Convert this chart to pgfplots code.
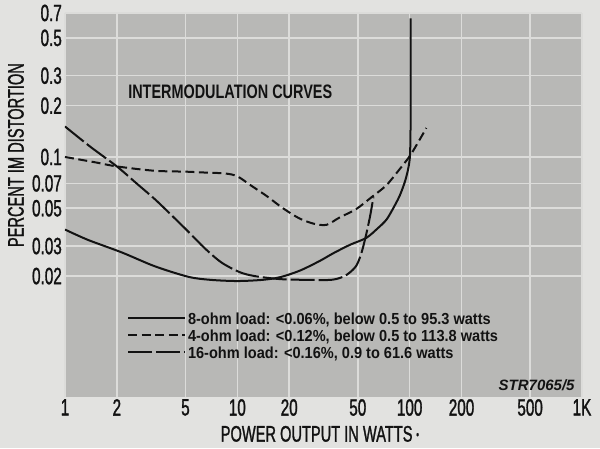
\documentclass[border=0pt]{standalone}
\usepackage{fontspec}
\setmainfont{Liberation Sans}[FakeStretch=0.65, FakeBold=1.2]
\newfontfamily\legfont{Liberation Sans}[FakeStretch=0.91]
\newfontfamily\titfont{Liberation Sans}[FakeStretch=0.74]
\newfontfamily\plainfont{Liberation Sans}
\usepackage{pgfplots}
\pgfplotsset{compat=1.18}
\definecolor{paper}{RGB}{226,226,224}
\definecolor{plotbg}{RGB}{184,184,182}
\definecolor{gridc}{RGB}{220,220,218}
\definecolor{ink}{RGB}{18,18,18}
\begin{document}
\begin{tikzpicture}
\fill[paper] (-65pt,-51pt) rectangle (535pt,397pt);
\path[use as bounding box] (-65pt,-51pt) rectangle (535pt,397pt);
\begin{axis}[
  scale only axis, width=517pt, height=384pt,
  xmode=log, ymode=log,
  xmin=1, xmax=1000, ymin=0.0039, ymax=0.7,
  axis background/.style={fill=plotbg},
  axis line style={draw=none},
  major tick length=0pt, minor tick length=0pt,
  xtick={1,2,5,10,20,50,100,200,500,1000},
  xticklabels={1,2,5,10,20,50,100,200,500,1K},
  ytick={0.02,0.03,0.05,0.07,0.1,0.2,0.3,0.5,0.7},
  yticklabels={0.02,0.03,0.05,0.07,0.1,0.2,0.3,0.5,0.7},
  grid=major,
  major grid style={draw=gridc, line width=1.6pt},
  /pgf/number format/assume math mode=true,
  tick label style={font=\fontsize{23.5}{24}\selectfont, text=ink},
  xticklabel style={inner sep=2pt},
  yticklabel style={inner sep=3pt},
  xlabel={POWER OUTPUT IN WATTS\,\raisebox{0.25ex}{\fontsize{12}{12}\selectfont •}},
  ylabel={PERCENT IM DISTORTION},
  label style={font=\fontsize{22.5}{23}\selectfont, text=ink},
  xlabel style={at={(axis description cs:0.493,-0.096)}, anchor=center},
  ylabel style={at={(axis description cs:-0.095,0.63)}, anchor=center},
  legend style={at={(rel axis cs:0.12,0.218)}, anchor=north west, draw=none, fill=none,
    inner sep=0pt, outer sep=0pt, row sep=0pt, column sep=2pt,
    font=\legfont\bfseries\fontsize{16}{17}\selectfont, text=ink,
    nodes={inner sep=0pt, text height=11.5pt, text depth=5.5pt}},
  legend cell align=left,
  legend image code/.code={\draw[#1] (0pt,4pt) -- (57pt,4pt);},
]
\addplot[ink, line width=2pt, smooth, tension=0.5] coordinates {
(1,0.0375) (1.36,0.0326) (2.14,0.0275) (3.33,0.0228) (5.2,0.0198) (7,0.0190)
(10,0.0187) (14,0.0190) (17.7,0.0197) (23,0.0215) (30,0.0245) (36,0.0272)
(45,0.0305) (56,0.0335) (65,0.038) (73.5,0.043) (82,0.052) (88,0.060)
(94,0.072) (98,0.085) (100.3,0.100) (101,0.13) (101.3,0.2) (101.4,0.65)
};
\addlegendentry{8-ohm load: <0.06\%, below 0.5 to 95.3 watts}
\addplot[ink, line width=2pt, dash pattern=on 9pt off 4.5pt, smooth, tension=0.5] coordinates {
(1,0.100) (1.5,0.093) (2,0.088) (3.3,0.083) (5,0.082) (6.5,0.081) (8.5,0.080)
(10,0.077) (12,0.068) (14.8,0.059) (18.4,0.050) (23,0.0435) (28,0.0405)
(33,0.0400) (39,0.0440) (49,0.0495) (60,0.058) (73,0.068) (86,0.083)
(100,0.101) (112,0.122) (125,0.148)
};
\addlegendentry{4-ohm load: <0.12\%, below 0.5 to 113.8 watts}
\addplot[ink, line width=2pt, dash pattern=on 24pt off 4pt, smooth, tension=0.5] coordinates {
(1,0.151) (1.4,0.115) (2,0.088) (2.6,0.070) (3.33,0.0564) (4.2,0.045) (5.2,0.0364)
(6.5,0.029) (8.1,0.0240) (10.3,0.0211) (12.6,0.0200) (17.6,0.0192)
(25,0.0190) (35,0.0190) (41,0.0198) (45,0.0210) (49,0.0230) (52,0.0265)
(55,0.0326) (58.8,0.0444) (61.6,0.0580)
};
\addlegendentry{16-ohm load: <0.16\%, 0.9 to 61.6 watts}
\node[anchor=west, font=\titfont\bfseries\fontsize{19.5}{20}\selectfont, text=ink, inner sep=0pt]
  at (rel axis cs:0.122,0.794) {INTERMODULATION CURVES};
\node[anchor=east, font=\plainfont\bfseries\itshape\fontsize{15}{16}\selectfont, text=ink, inner sep=0pt]
  at (rel axis cs:0.986,0.031) {STR7065/5};
\end{axis}
\end{tikzpicture}
\end{document}
